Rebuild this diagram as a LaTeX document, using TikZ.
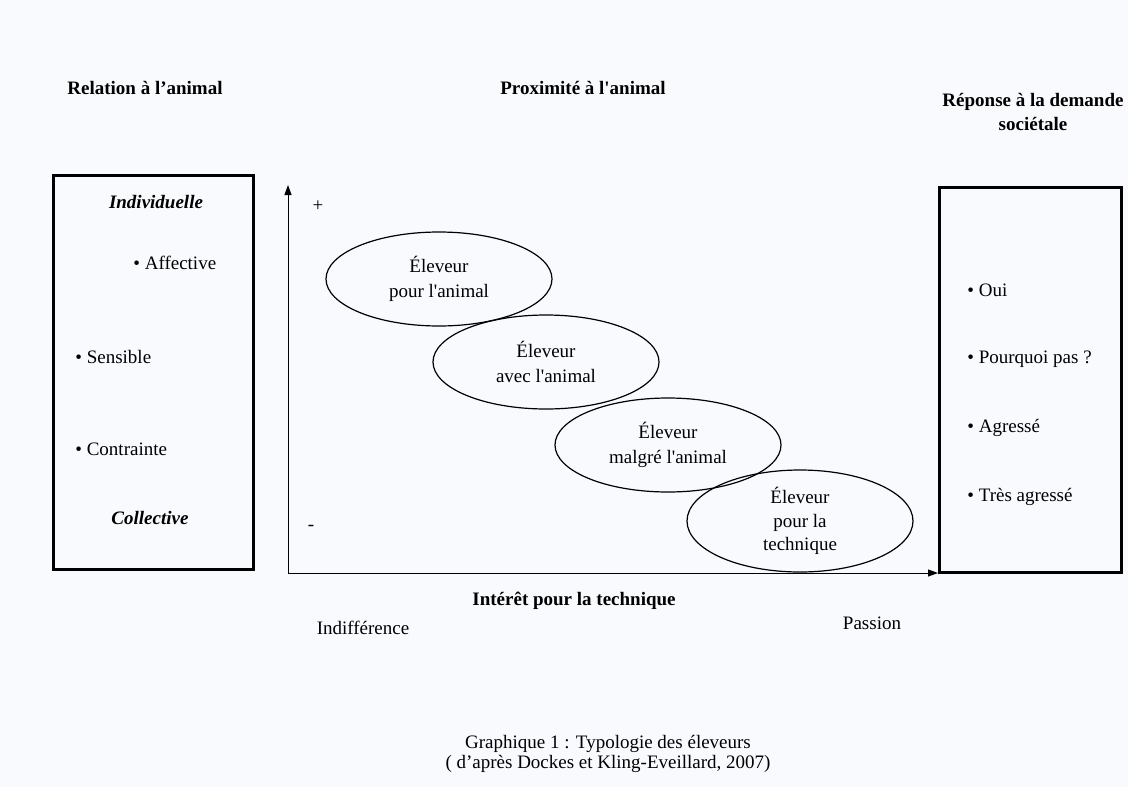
\documentclass[tikz,border=0pt]{standalone}
\usepackage{fontspec}
\setmainfont{Liberation Serif}
\usetikzlibrary{arrows.meta,shapes.geometric}
\definecolor{paper}{RGB}{248,250,253}
\newcommand{\apos}{\textquotesingle}

\begin{document}
\begin{tikzpicture}[x=0.5pt,y=-0.5pt,font=\fontsize{9.5}{12.5}\selectfont,
	frame/.style={draw,line width=1.5pt,inner sep=0pt},
	kind/.style={ellipse,draw,line width=0.6pt,inner sep=0pt,minimum width=113pt,minimum height=47pt,align=center},
	head/.style={font=\fontsize{9.5}{12}\selectfont\bfseries,align=center},
	pole/.style={font=\fontsize{9.5}{12}\selectfont\bfseries\itshape},
	item/.style={anchor=west,inner sep=0pt},
	axis/.style={{Triangle[length=5pt,width=3.5pt]}-{Triangle[length=5pt,width=3.5pt]},line width=0.5pt}]
	\useasboundingbox[fill=paper] (0,0) rectangle (1128,787);
	% titres
	\node (trel)  at ( 145,  88) [head] {Relation à l’animal};
	\node (tprox) at ( 583,  88) [head] {Proximité à l\apos animal};
	\node (trep)  at (1033, 112) [head] {Réponse à la demande\\sociétale};
	% relation a l'animal
	\node (rel) at (153, 372) [frame,minimum width=100pt,minimum height=197pt] {};
	\node (indiv) at (156, 202) [pole] {Individuelle};
	\node (aff)   at (133, 263) [item] {• Affective};
	\node (sens)  at ( 75, 357) [item] {• Sensible};
	\node (contr) at ( 75, 449) [item] {• Contrainte};
	\node (coll)  at (150, 518) [pole] {Collective};
	% reponse a la demande
	\node (rep) at (1030, 379.5) [frame,minimum width=91pt,minimum height=192.5pt] {};
	\node (oui)  at (967, 290) [item] {• Oui};
	\node (pq)   at (967, 359) [item] {• Pourquoi pas ?};
	\node (agr)  at (967, 428) [item] {• Agressé};
	\node (tagr) at (967, 497) [item] {• Très agressé};
	% axes
	\coordinate (O)    at (288, 573);
	\coordinate (ytop) at (288, 185);
	\coordinate (xend) at (938, 573);
	\draw [axis] (ytop) -- (O) -- (xend);
	\node (plus)  at (318, 206) {+};
	\node (minus) at (311, 528) {-};
	% eleveurs
	\node (e1) at (439, 279) [kind] {Éleveur\\pour l\apos animal};
	\node (e2) at (546, 362) [kind] {Éleveur\\avec l\apos animal};
	\node (e3) at (668, 445) [kind] {Éleveur\\malgré l\apos animal};
	\node (e4) at (800, 521) [kind,minimum height=51pt,font=\fontsize{9.5}{11.8}\selectfont] {Éleveur\\pour la\\technique};
	\node (tx)   at (574, 601) [head] {Intérêt pour la technique};
	\node (low)  at (363, 628) {Indifférence};
	\node (high) at (872, 623) {Passion};
	\node (cap)  at (608, 754) [align=center,font=\fontsize{9.5}{9.8}\selectfont] {Graphique 1 : Typologie des éleveurs\\( d’après Dockes et Kling-Eveillard, 2007)};
\end{tikzpicture}
\end{document}
